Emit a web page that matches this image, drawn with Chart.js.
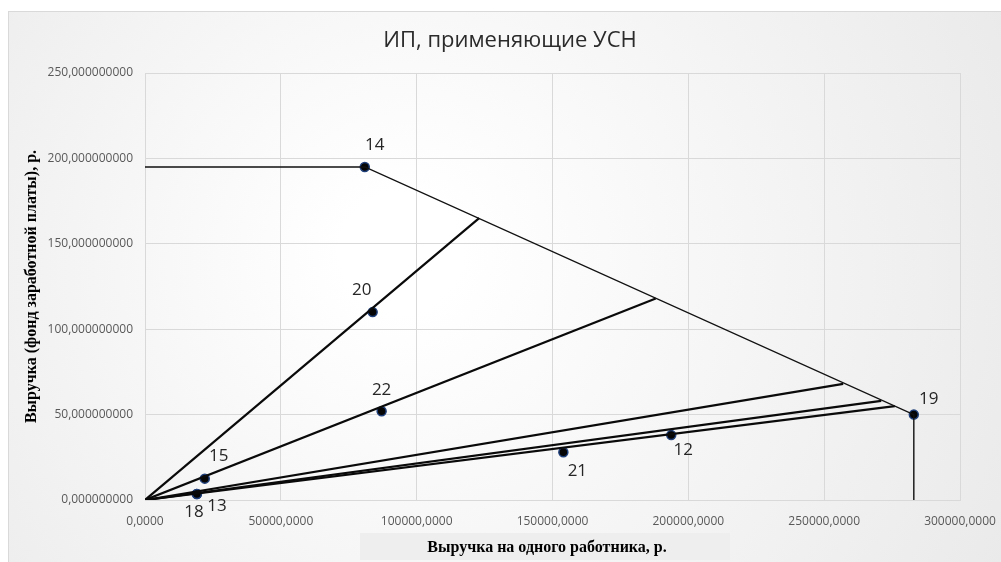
<!DOCTYPE html>
<html lang="ru">
<head>
<meta charset="utf-8">
<title>ИП, применяющие УСН</title>
<script src="https://cdn.jsdelivr.net/npm/chart.js@4.4.1/dist/chart.umd.min.js"></script>
<style>
  html, body { margin: 0; padding: 0; background: #ffffff; }
  #wrap { width: 1001px; height: 562px; }
</style>
</head>
<body>
<div id="wrap"><canvas id="usnChart" width="1001" height="562"></canvas></div>
<script>
//Chart texts
const chartTitle = 'ИП, применяющие УСН';
const xAxisTitle = 'Выручка на одного работника, р.';
const yAxisTitle = 'Выручка (фонд заработной платы), р.';

//Tick values
const xTicks = [0, 50000, 100000, 150000, 200000, 250000, 300000];
const yTicks = [0, 50, 100, 150, 200, 250];

//Upper boundary: flat part, down to point 19, then drop to the axis
const frontierX = [0, 80900, 283000, 283000];
const frontierY = [195, 195, 50, 0];

//Rays from the origin, ending on the boundary
const rayEndX = [123000, 188000, 257000, 271000, 276000];
const rayEndY = [165, 118, 68, 58, 55];

//Numbered points
const pointLabels = ['14', '20', '22', '15', '18', '13', '21', '12', '19'];
const pointX = [80900, 83800, 87100, 22000, 19100, 19100, 154000, 193700, 283000];
const pointY = [195, 110, 52, 12.5, 3.5, 3.5, 28, 38, 50];

//Label placement relative to its point (px)
const labelOffsets = {
  14: [10, -22], 20: [-11, -22], 22: [0, -21], 15: [14, -22], 18: [-3, 18],
  13: [20, 12], 21: [14, 19], 12: [12, 15], 19: [15, -15],
};

const tickFont = { family: "'Open Sans', sans-serif", size: 12 };

//Background frame of the chart
const frameBackground = {
  id: 'frameBackground',
  beforeDraw(chart) {
    const { ctx, width, height } = chart;
    ctx.save();
    ctx.fillStyle = '#ffffff';
    ctx.fillRect(0, 0, width, height);
    const g = ctx.createRadialGradient(width * 0.4, height * 0.45, 60, width * 0.45, height * 0.5, width * 0.65);
    g.addColorStop(0, '#ffffff');
    g.addColorStop(1, '#e9e9e9');
    ctx.fillStyle = g;
    ctx.fillRect(8, 11, width - 8, height - 11);
    ctx.strokeStyle = '#d9d9d9';
    ctx.lineWidth = 1;
    ctx.strokeRect(8.5, 11.5, width, height);
    ctx.restore();
  },
};

//Chart title and axis titles
const titles = {
  id: 'titles',
  afterDraw(chart) {
    const { ctx, chartArea } = chart;
    ctx.save();
    ctx.textAlign = 'center';
    ctx.textBaseline = 'middle';

    ctx.fillStyle = '#2b2b2b';
    ctx.font = "22px 'Open Sans', sans-serif";
    ctx.fillText(chartTitle, 510, 41);

    // x title sits on a light grey strip
    const cx = chartArea.left + 400;
    const cy = chartArea.bottom + 48;
    ctx.fillStyle = '#eeeeee';
    ctx.fillRect(cx - 185, cy - 15, 370, 27);
    ctx.fillStyle = '#000000';
    ctx.font = "bold 16px 'Liberation Serif', serif";
    ctx.fillText(xAxisTitle, cx + 2, cy);

    ctx.translate(32, (chartArea.top + chartArea.bottom) / 2);
    ctx.rotate(-Math.PI / 2);
    ctx.fillText(yAxisTitle, 0, 0);
    ctx.restore();
  },
};

//Numbers next to the points
const pointNumbers = {
  id: 'pointNumbers',
  afterDatasetsDraw(chart) {
    const { ctx } = chart;
    const meta = chart.getDatasetMeta(chart.data.datasets.length - 1);
    ctx.save();
    ctx.fillStyle = '#262626';
    ctx.font = "17px 'Open Sans', sans-serif";
    ctx.textAlign = 'center';
    ctx.textBaseline = 'middle';
    meta.data.forEach((el, i) => {
      const label = pointLabels[i];
      const off = labelOffsets[label] || [0, -20];
      ctx.fillText(label, el.x + off[0], el.y + off[1]);
    });
    ctx.restore();
  },
};

//Build datasets from the arrays
function buildDatasets() {
  const datasets = [];

  datasets.push({
    data: frontierX.map((x, i) => ({ x, y: frontierY[i] })),
    showLine: true,
    borderColor: '#111111',
    borderWidth: 1.4,
    pointRadius: 0,
  });

  rayEndX.forEach((x, i) => {
    datasets.push({
      data: [{ x: 0, y: 0 }, { x, y: rayEndY[i] }],
      showLine: true,
      borderColor: '#0a0a0a',
      borderWidth: 2.2,
      pointRadius: 0,
    });
  });

  datasets.push({
    data: pointX.map((x, i) => ({ x, y: pointY[i] })),
    showLine: false,
    backgroundColor: '#050505',
    borderColor: '#1f3f7a',
    borderWidth: 1.5,
    pointRadius: 4.5,
  });

  return datasets;
}

//Create scatter chart
function createChart() {
  const chartContext = document.getElementById('usnChart').getContext('2d');

  /* global Chart */
  return new Chart(chartContext, {
    type: 'scatter',
    data: { datasets: buildDatasets() },
    options: {
      responsive: false,
      animation: false,
      layout: { padding: { left: 10, right: 41, top: 73, bottom: 0 } },
      plugins: {
        legend: { display: false },
        tooltip: { enabled: false },
        title: { display: false },
      },
      scales: {
        x: {
          type: 'linear',
          min: xTicks[0],
          max: xTicks[xTicks.length - 1],
          afterBuildTicks: (scale) => {
            scale.ticks = xTicks.map((v) => ({ value: v }));
          },
          afterFit: (scale) => {
            scale.height = 62;
            scale.paddingLeft = 0;
            scale.paddingRight = 0;
          },
          grid: { color: '#d9d9d9', drawTicks: false },
          border: { color: '#d9d9d9' },
          ticks: {
            padding: 14,
            color: '#595959',
            font: tickFont,
            maxRotation: 0,
            callback: (v) => v.toFixed(4).replace('.', ','),
          },
        },
        y: {
          type: 'linear',
          min: yTicks[0],
          max: yTicks[yTicks.length - 1],
          afterBuildTicks: (scale) => {
            scale.ticks = yTicks.map((v) => ({ value: v }));
          },
          afterFit: (scale) => {
            scale.width = 135;
          },
          grid: { color: '#d9d9d9', drawTicks: false },
          border: { color: '#d9d9d9' },
          ticks: {
            padding: 12,
            color: '#595959',
            font: tickFont,
            callback: (v) => v.toFixed(9).replace('.', ','),
          },
        },
      },
    },
    plugins: [frameBackground, titles, pointNumbers],
  });
}

//Wait for local fonts, then draw
function initializeChart() {
  const fonts = [
    "12px 'Open Sans'",
    "22px 'Open Sans'",
    "bold 16px 'Liberation Serif'",
  ];
  Promise.all(fonts.map((f) => document.fonts.load(f)))
    .catch((error) => console.error('Font load failed', error))
    .then(() => createChart());
}

document.addEventListener('DOMContentLoaded', initializeChart);
</script>
</body>
</html>
